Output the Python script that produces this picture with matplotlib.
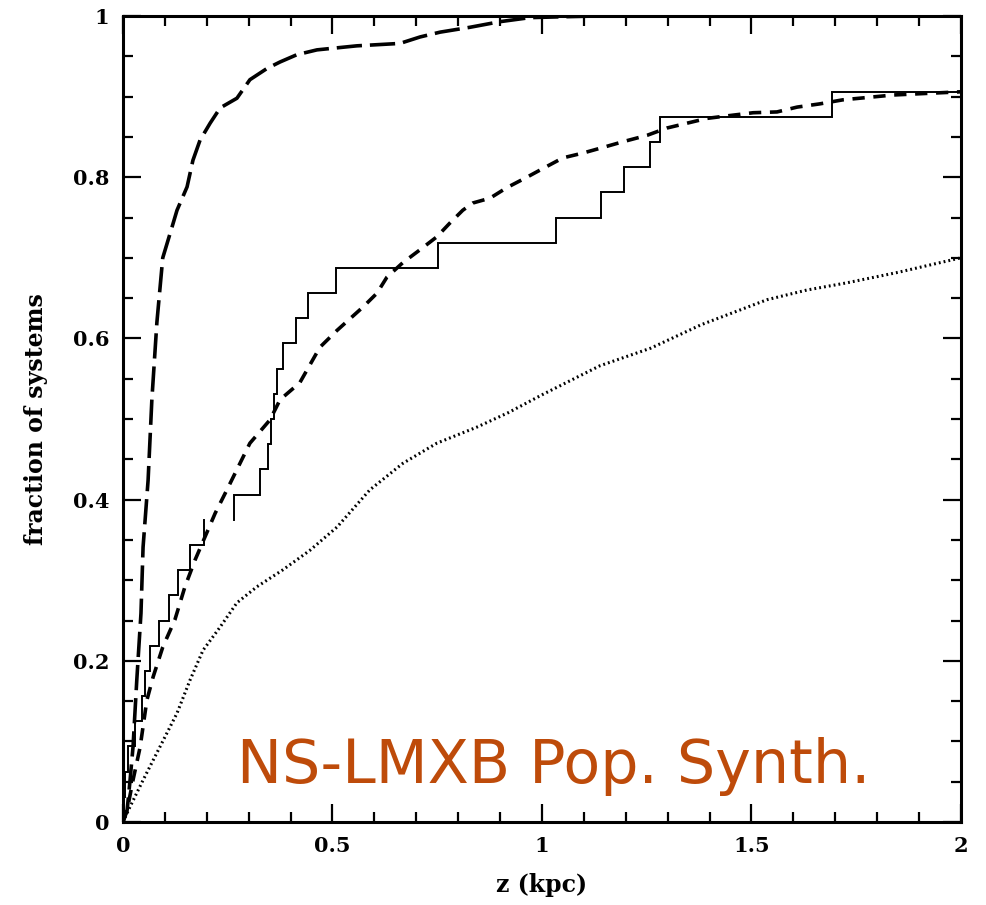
import numpy as np
import matplotlib.pyplot as plt
from matplotlib.ticker import MultipleLocator

# observed systems: cumulative step, jumps of 1/32 at these z values (kpc)
n_sys = 32
step_z = [0.003, 0.006, 0.012, 0.029, 0.045, 0.053, 0.064, 0.086, 0.110,
          0.131, 0.160, 0.193, 0.265, 0.327, 0.346, 0.353, 0.360, 0.368,
          0.382, 0.413, 0.442, 0.509, 0.752, 1.033, 1.141, 1.196, 1.258,
          1.282, 1.692]
gap_level = 12   # the drawn line breaks after this step in the original

# long-dashed model
z_long = [0, 0.010, 0.017, 0.024, 0.033, 0.043, 0.048, 0.060, 0.069, 0.081,
          0.095, 0.117, 0.129, 0.153, 0.167, 0.184, 0.208, 0.232, 0.272,
          0.303, 0.344, 0.375, 0.415, 0.463, 0.558, 0.661, 0.709, 0.757,
          0.828, 0.900, 0.971, 1.043, 1.130]
f_long = [0, 0.015, 0.052, 0.093, 0.176, 0.259, 0.341, 0.424, 0.524, 0.620,
          0.700, 0.738, 0.759, 0.788, 0.821, 0.846, 0.867, 0.886, 0.898,
          0.921, 0.935, 0.943, 0.952, 0.958, 0.963, 0.966, 0.974, 0.980,
          0.986, 0.993, 0.998, 0.999, 1.0]

# short-dashed model
z_short = [0, 0.010, 0.024, 0.041, 0.057, 0.072, 0.095, 0.124, 0.148, 0.172,
           0.196, 0.220, 0.248, 0.303, 0.351, 0.375, 0.422, 0.470, 0.511,
           0.573, 0.606, 0.630, 0.668, 0.709, 0.749, 0.780, 0.811, 0.835,
           0.876, 0.916, 0.964, 1.003, 1.050, 1.098, 1.146, 1.193, 1.251,
           1.298, 1.346, 1.394, 1.456, 1.504, 1.561, 1.609, 1.663, 1.718,
           1.838, 2.0]
f_short = [0, 0.015, 0.052, 0.093, 0.151, 0.180, 0.217, 0.251, 0.292, 0.325,
           0.354, 0.383, 0.412, 0.470, 0.499, 0.524, 0.545, 0.589, 0.610,
           0.639, 0.656, 0.676, 0.694, 0.710, 0.726, 0.743, 0.759, 0.768,
           0.774, 0.787, 0.800, 0.811, 0.824, 0.830, 0.837, 0.844, 0.852,
           0.861, 0.867, 0.873, 0.877, 0.880, 0.881, 0.887, 0.891, 0.896,
           0.902, 0.906]

# dotted model
z_dot = [0, 0.017, 0.048, 0.088, 0.129, 0.160, 0.191, 0.232, 0.272, 0.320,
         0.382, 0.446, 0.511, 0.589, 0.668, 0.749, 0.845, 0.920, 1.000,
         1.138, 1.260, 1.380, 1.537, 1.632, 1.728, 1.850, 2.0]
f_dot = [0, 0.019, 0.052, 0.093, 0.135, 0.176, 0.213, 0.242, 0.272, 0.292,
         0.313, 0.337, 0.366, 0.412, 0.445, 0.470, 0.490, 0.508, 0.530,
         0.566, 0.588, 0.617, 0.648, 0.660, 0.669, 0.682, 0.700]

xticks = [0, 0.5, 1, 1.5, 2]
xticklabels = ['0', '0.5', '1', '1.5', '2']
yticks = [0, 0.2, 0.4, 0.6, 0.8, 1]
yticklabels = ['0', '0.2', '0.4', '0.6', '0.8', '1']

# build step outline from jump positions
xs, ys = [0.0], [0.0]
for i, z in enumerate(step_z):
    xs += [z, z]
    ys += [i / n_sys, (i + 1) / n_sys]
    if i + 1 == gap_level:
        xs.append(np.nan)
        ys.append(np.nan)
xs.append(2.0)
ys.append(len(step_z) / n_sys)

fig = plt.figure(figsize=(9.86, 9.05), dpi=100)
ax = fig.add_axes([0.1247, 0.0917, 0.8499, 0.8906])

ax.plot(xs, ys, color='black', lw=1.4, solid_joinstyle='miter')
ax.plot(z_long, f_long, color='black', lw=2.6, dashes=(7, 2.2))
ax.plot(z_short, f_short, color='black', lw=2.6, dashes=(3.4, 2.4))
ax.plot(z_dot, f_dot, color='black', lw=2.2, dashes=(0.6, 1.0))

ax.set_xlim(0, 2)
ax.set_ylim(0, 1)
ax.set_xticks(xticks)
ax.set_xticklabels(xticklabels)
ax.set_yticks(yticks)
ax.set_yticklabels(yticklabels)
ax.xaxis.set_minor_locator(MultipleLocator(0.1))
ax.yaxis.set_minor_locator(MultipleLocator(0.05))
ax.tick_params(which='both', direction='in', top=True, right=True, width=1.6)
ax.tick_params(which='major', length=13, pad=10)
ax.tick_params(which='minor', length=7)
for lab in ax.get_xticklabels() + ax.get_yticklabels():
    lab.set_fontfamily('DejaVu Serif')
    lab.set_fontweight('bold')
    lab.set_fontsize(15)
for s in ax.spines.values():
    s.set_linewidth(2.2)

ax.set_xlabel('z (kpc)', fontfamily='DejaVu Serif', fontweight='bold',
              fontsize=17, labelpad=12)
ax.set_ylabel('fraction of systems', fontfamily='DejaVu Serif',
              fontweight='bold', fontsize=17, labelpad=18)

ax.text(0.272, 0.048, 'NS-LMXB Pop. Synth.', color='#BE4B0A',
        fontfamily='DejaVu Sans', fontsize=43.4, ha='left', va='baseline')

fig.savefig('out.png', dpi=100)
